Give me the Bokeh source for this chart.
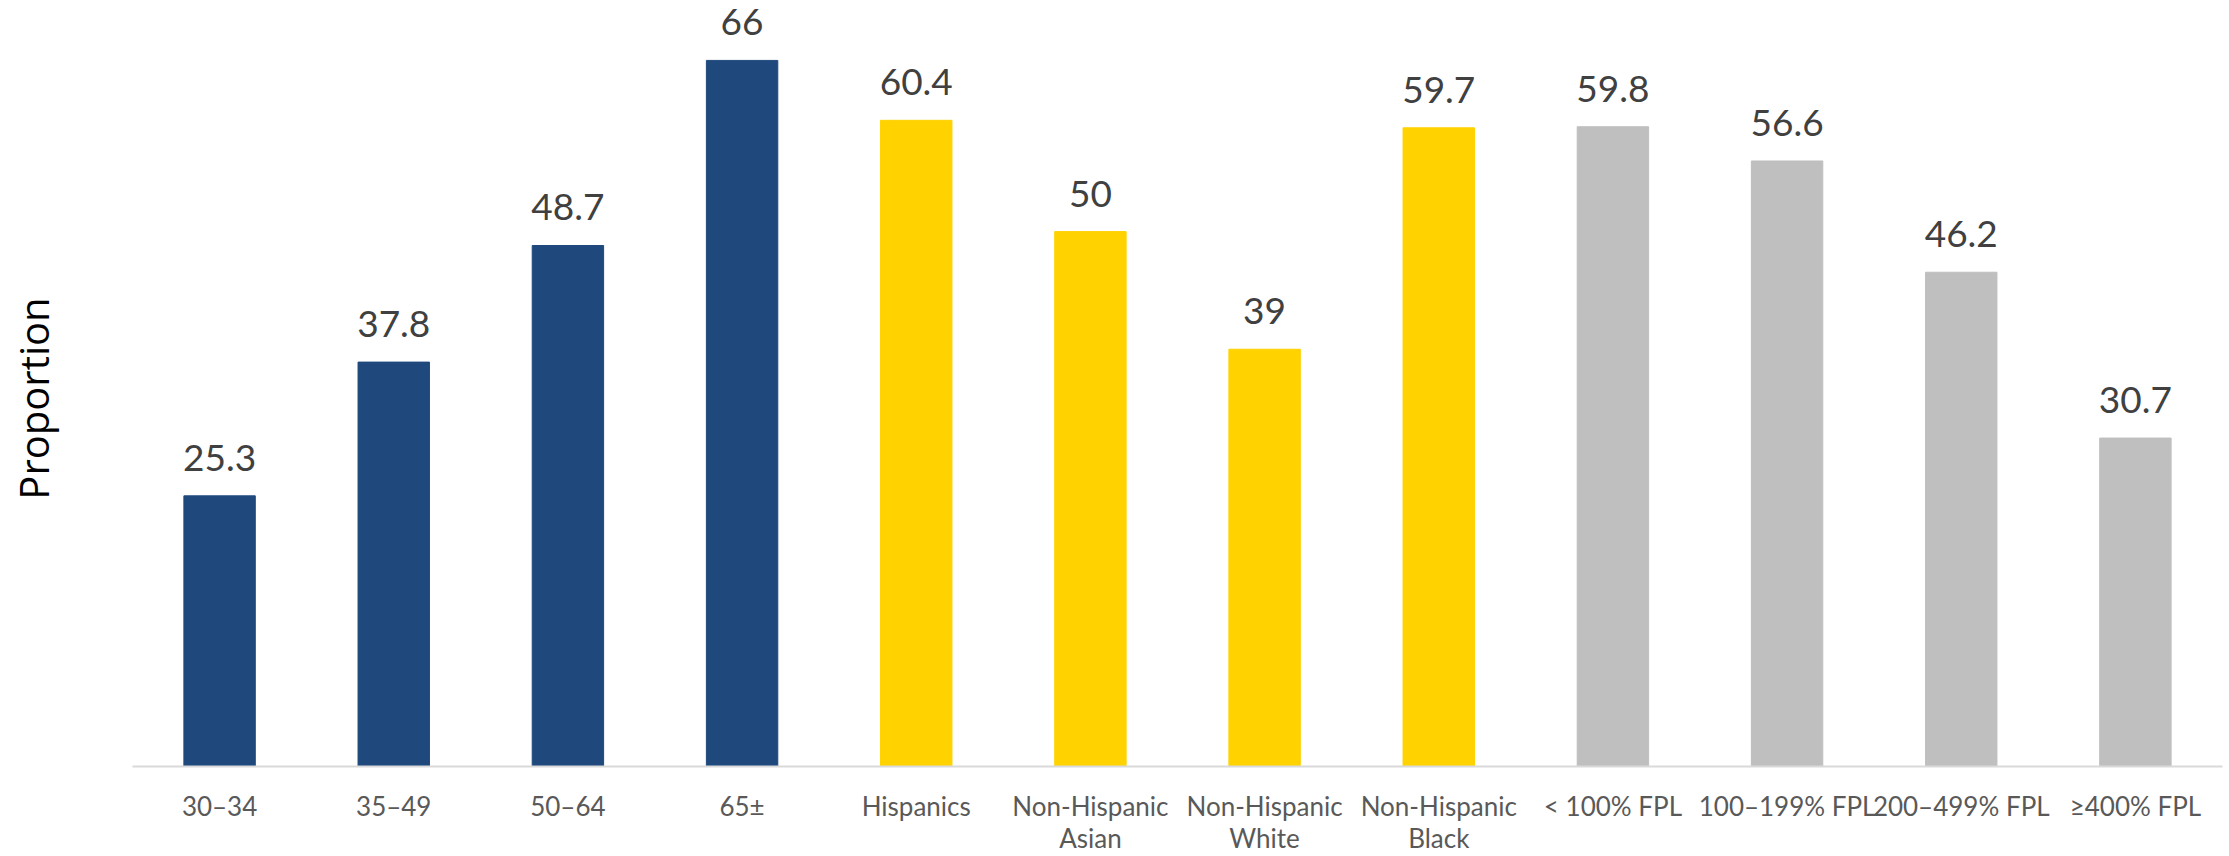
import math
from bokeh.plotting import figure
from bokeh.layouts import row
from bokeh.models import ColumnDataSource, LabelSet, Label, FactorRange, Range1d
from bokeh.core.properties import value
from bokeh.embed import file_html
from bokeh.resources import INLINE

categories = ["30–34", "35–49", "50–64", "65±", "Hispanics",
              "Non-Hispanic\nAsian", "Non-Hispanic\nWhite", "Non-Hispanic\nBlack",
              "< 100% FPL", "100–199% FPL", "200–499% FPL", "≥400% FPL"]
values = [25.3, 37.8, 48.7, 66, 60.4, 50, 39, 59.7, 59.8, 56.6, 46.2, 30.7]
value_labels = ["25.3", "37.8", "48.7", "66", "60.4", "50", "39", "59.7", "59.8", "56.6", "46.2", "30.7"]
groups = ["age"] * 4 + ["race"] * 4 + ["income"] * 4
group_colors = {"age": "#1F497D", "race": "#FFD200", "income": "#BFBFBF"}
colors = [group_colors[g] for g in groups]
y_title = "Proportion"

source = ColumnDataSource(dict(cat=categories, val=values, lab=value_labels, color=colors))

# left strip holding the y-axis title (its frame is aligned with the main plot's frame)
left = figure(width=132, height=856, output_backend="svg", toolbar_location=None,
              x_range=Range1d(0, 1), y_range=Range1d(0, 1),
              min_border=0)
left.xaxis.visible = False
left.yaxis.visible = False
left.xgrid.grid_line_color = None
left.ygrid.grid_line_color = None
left.outline_line_color = None
left.add_layout(Label(x=33, y=368, x_units="screen", y_units="screen", text=y_title,
                      angle=math.pi / 2, text_align="center", text_baseline="middle",
                      text_font="Open Sans", text_font_size="40px", text_color="#000000"))

p = figure(width=2097, height=856, output_backend="svg", toolbar_location=None,
           x_range=FactorRange(factors=categories, range_padding=0),
           y_range=Range1d(0, 71.6),
           min_border_left=0, min_border_right=7, min_border_top=0, min_border_bottom=86)

p.vbar(x="cat", top="val", width=0.41, color="color", source=source)

labels = LabelSet(x="cat", y="val", text="lab", source=source, y_offset=38,
                  text_align="center", text_baseline="middle",
                  text_font=value("Lato"), text_font_size="37px", text_color="#404040")
p.add_layout(labels)

p.xgrid.grid_line_color = None
p.ygrid.grid_line_color = None
p.outline_line_color = None
p.background_fill_color = "white"
p.border_fill_color = "white"

xa = p.xaxis[0]
xa.axis_line_color = "#D9D9D9"
xa.axis_line_width = 2
xa.major_tick_line_color = None
xa.minor_tick_line_color = None
xa.major_tick_out = 0
xa.major_tick_in = 0
xa.major_label_standoff = 23
xa.major_label_text_font = "Lato"
xa.major_label_text_font_size = "26px"
xa.major_label_text_line_height = 1.0
xa.major_label_text_color = "#595959"

p.yaxis.visible = False

layout = row(left, p, spacing=0)
open("out.html", "w").write(file_html(layout, INLINE))
